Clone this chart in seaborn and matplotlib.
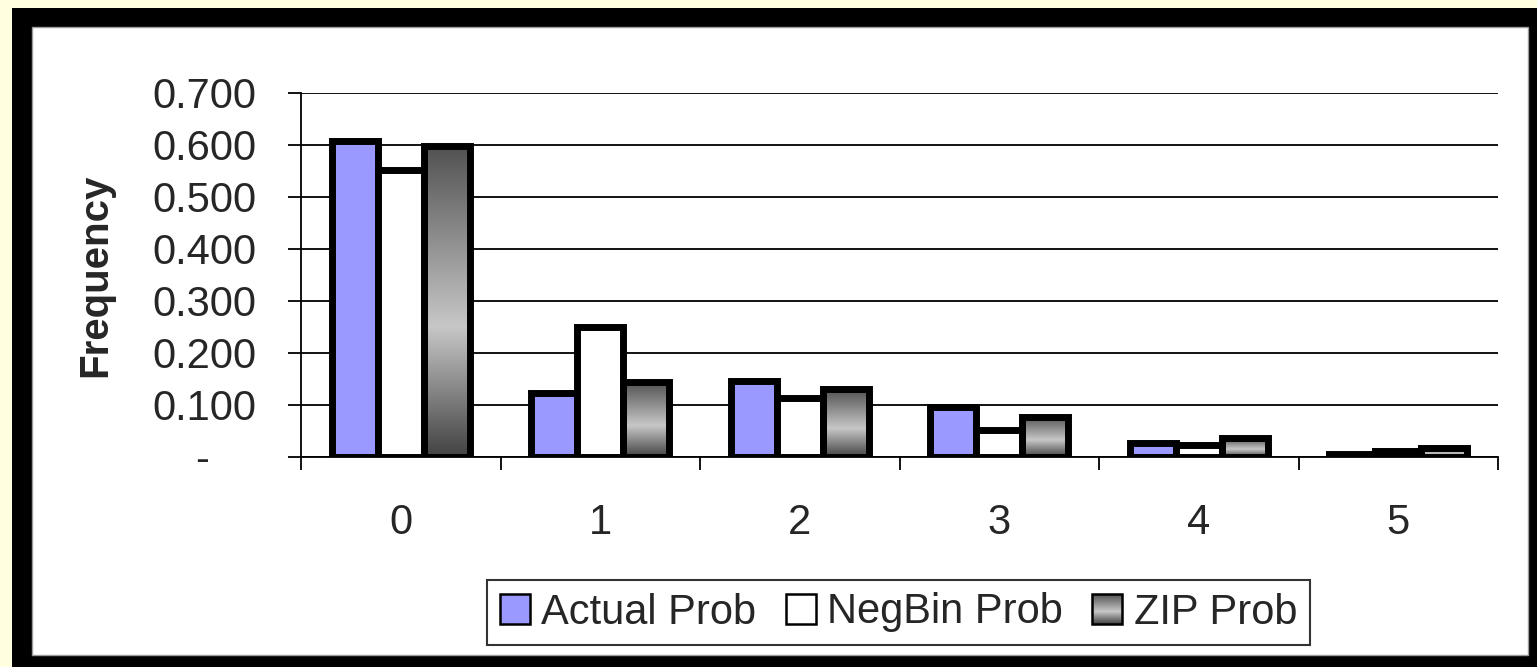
import numpy as np
import pandas as pd
import matplotlib
matplotlib.use("Agg")
import matplotlib.pyplot as plt
import seaborn as sns
from matplotlib.patches import Rectangle, Patch
from matplotlib.legend_handler import HandlerBase
from matplotlib.image import BboxImage
from matplotlib.transforms import Bbox, TransformedBbox

# ---- data -------------------------------------------------------------
counts = ["0", "1", "2", "3", "4", "5"]
actual_prob = [0.607, 0.123, 0.146, 0.096, 0.027, 0.005]
negbin_prob = [0.552, 0.250, 0.113, 0.052, 0.023, 0.012]
zip_prob = [0.598, 0.144, 0.130, 0.077, 0.036, 0.017]
series_names = ["Actual Prob", "NegBin Prob", "ZIP Prob"]
y_ticks = [0.0, 0.1, 0.2, 0.3, 0.4, 0.5, 0.6, 0.7]
y_tick_labels = ["-\u00a0\u00a0\u00a0\u00a0", "0.100", "0.200", "0.300",
                 "0.400", "0.500", "0.600", "0.700"]
y_label = "Frequency"

df = pd.DataFrame({
    "count": counts * 3,
    "prob": actual_prob + negbin_prob + zip_prob,
    "series": np.repeat(series_names, len(counts)),
})

# ---- style ------------------------------------------------------------
sns.set_style("white")
plt.rcParams["font.family"] = ["Liberation Sans", "DejaVu Sans"]
FS = 30

ACTUAL_COLOR = "#9999FF"
NEGBIN_COLOR = "#FFFFFF"
ZIP_COLOR = "#8a8a8a"


def zip_gradient(n=256):
    """Vertical grey shading: dark top, light centre, dark bottom."""
    t = np.linspace(0, 1, n)
    level = np.interp(t, [0.0, 0.58, 1.0], [0.32, 0.78, 0.26])
    return np.repeat(level[:, None, None], 3, axis=2)


class GradientHandler(HandlerBase):
    def create_artists(self, legend, orig_handle, xdescent, ydescent,
                       width, height, fontsize, trans):
        bb = Bbox.from_bounds(-xdescent, -ydescent, width, height)
        img = BboxImage(TransformedBbox(bb, trans), interpolation="bilinear")
        img.set_data(zip_gradient())
        rect = Rectangle((-xdescent, -ydescent), width, height,
                         facecolor="none", edgecolor="black", lw=1.8,
                         transform=trans)
        return [img, rect]


W, H = 1537, 667
fig = plt.figure(figsize=(W / 100, H / 100), dpi=100)
fig.patch.set_facecolor("#FFFFE0")

# black frame and white chart area
fig.add_artist(Rectangle((12 / W, 0), (W - 12) / W, (H - 8) / H,
                         transform=fig.transFigure, facecolor="black",
                         edgecolor="none", zorder=-3))
fig.add_artist(Rectangle((32 / W, 12 / H), 1496 / W, 628 / H,
                         transform=fig.transFigure, facecolor="white",
                         edgecolor="#9a9a9a", lw=1.0, zorder=-2))

ax = fig.add_axes([301 / W, 1 - 457 / H, (1498 - 301) / W, (457 - 93) / H])
ax.set_facecolor("none")

sns.barplot(data=df, x="count", y="prob", hue="series", order=counts,
            hue_order=series_names,
            palette=[ACTUAL_COLOR, NEGBIN_COLOR, ZIP_COLOR],
            width=0.69, dodge=True, saturation=1, edgecolor="black",
            linewidth=5.0, legend=False, ax=ax, errorbar=None)

# shaded fill for the ZIP bars
zip_bars = ax.containers[2] if len(ax.containers) >= 3 else []
for bar in zip_bars:
    x0, y0 = bar.get_x(), bar.get_y()
    w, h = bar.get_width(), bar.get_height()
    im = ax.imshow(zip_gradient(), extent=[x0, x0 + w, y0, y0 + h],
                   aspect="auto", origin="upper", interpolation="bilinear",
                   zorder=bar.get_zorder() - 0.05)
    im.set_clip_path(bar)
    bar.set_facecolor("none")

ax.set_xlim(-0.5, len(counts) - 0.5)
ax.set_ylim(0, 0.7)

# axes, ticks and grid
ax.set_axisbelow(True)
ax.yaxis.grid(True, color="black", lw=1.3)
ax.xaxis.grid(False)
for side in ("top", "right"):
    ax.spines[side].set_visible(False)
for side in ("left", "bottom"):
    ax.spines[side].set_visible(True)
    ax.spines[side].set_color("black")
    ax.spines[side].set_linewidth(1.3)

ax.set_yticks(y_ticks)
ax.set_yticklabels(y_tick_labels)
ax.tick_params(axis="y", direction="out", length=9.4, width=1.3,
               color="black", pad=23, labelsize=FS, left=True)
ax.set_xticks(range(len(counts)))
ax.set_xticklabels(counts)
ax.set_xticks(np.arange(-0.5, len(counts)), minor=True)
ax.tick_params(axis="x", which="major", length=0, pad=33, labelsize=FS)
ax.tick_params(axis="x", which="minor", direction="out", length=9.4,
               width=1.3, color="black", bottom=True)
ax.set_xlabel("")
ax.set_ylabel(y_label, fontsize=29, fontweight="bold", va="center")
ax.yaxis.set_label_coords(-0.172, 0.5)

handles = [Patch(facecolor=ACTUAL_COLOR, edgecolor="black", lw=1.8),
           Patch(facecolor=NEGBIN_COLOR, edgecolor="black", lw=1.8),
           Patch(facecolor=ZIP_COLOR, edgecolor="black", lw=1.8)]
leg = fig.legend(handles, series_names, loc="center",
                 bbox_to_anchor=(898.5 / W, 1 - 612.5 / H), ncol=3,
                 fontsize=FS, frameon=True, fancybox=False, shadow=False,
                 handlelength=0.72, handleheight=0.72, handletextpad=0.28,
                 columnspacing=0.7, borderpad=0.3, borderaxespad=0,
                 handler_map={handles[2]: GradientHandler()})
leg.get_frame().set_edgecolor("black")
leg.get_frame().set_linewidth(1.5)
leg.get_frame().set_facecolor("white")

fig.savefig("out.png", dpi=100, facecolor=fig.get_facecolor())
